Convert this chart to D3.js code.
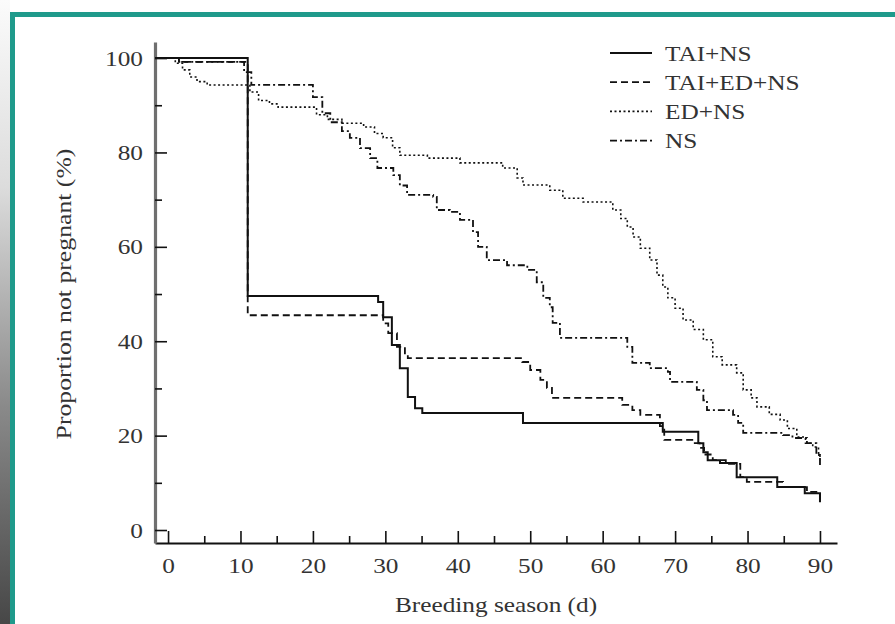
<!DOCTYPE html>
<html>
<head>
<meta charset="utf-8">
<script src="https://cdn.jsdelivr.net/npm/d3@7"></script>
<style>
  body { margin: 0; background: #fff; }
  svg { display: block; }
</style>
</head>
<body>
<svg width="895" height="624"></svg>
<script>
// series names shown in the legend
var seriesNames = ["TAI+NS", "TAI+ED+NS", "ED+NS", "NS"];

// [day, % not pregnant] step points
var taiNs = [[0,100],[11,49.6],[29,48.3],[29.7,45.1],[30.9,39.2],[32,34.3],[33.1,28.2],[34.1,25.8],[35.1,24.8],
  [49,22.7],[68.3,20.8],[73.2,18.4],[73.9,16.5],[74.5,14.8],[76.2,14.2],[78.5,11.2],[84.1,9.1],[87.9,7.8],[90,5.9]];

var taiEdNs = [[0,100],[1.5,99.2],[11,45.5],[29.7,43.8],[30.4,41.7],[31.6,38.8],[32.7,37.1],[33.1,36.4],[48.9,35.6],
  [50,33.9],[51.4,31.8],[52.3,30.1],[53,28],[62.7,26.5],[64.1,25.4],[65.2,24.4],[67.9,22],[68.5,19.1],[72.5,18.4],
  [73.4,17.4],[74,16],[75.2,14.8],[77,14],[79,11.2],[79.9,10.2],[84.9,9.1],[88.2,8.1],[90,6.4]];

var edNs = [[0,100],[1,98.9],[2,97.5],[3,96],[4,95],[5.4,94.3],[11.3,92.8],[12.5,91],[14,90.3],[15.2,89.6],[20.5,88],
  [22,87],[24,86.2],[27,85.4],[28.5,84],[29.7,83.1],[31,81],[32,79.4],[35.8,78.8],[40.3,77.8],[46.2,76.7],[48.2,74.6],
  [49,73.1],[52.7,72],[54.5,70.3],[57.3,69.5],[61.4,67.8],[62.5,66],[63.4,64.2],[64.2,62.1],[65.2,59.7],[66.5,57.2],
  [67.5,54],[68.3,51.5],[69,49.2],[70,47],[71.1,44.5],[72.5,42.5],[73.9,40.3],[75.2,36.7],[76.5,35],[78.5,33.3],
  [79.4,29.7],[80.5,28],[81.3,26.1],[83,24.5],[84.5,23.3],[85.5,21.5],[86.8,19.7],[88,18.4],[89,17.6],[89.8,16.3],[90,14.8]];

var ns = [[0,100],[1.5,99.2],[10.5,97],[11.5,94.3],[20,91.7],[21.3,88.3],[22.4,86.4],[24,84.5],[25.1,83.1],[26.5,80.9],
  [27.9,78.8],[28.9,76.7],[31.1,75.2],[32,73],[33,71],[36.6,70.6],[37.1,67.8],[38.9,67.4],[40.3,65.7],[42.1,63.1],
  [42.8,60],[44,57.2],[46.8,56.1],[49.6,55.1],[50.9,52.5],[51.8,49.2],[52.7,47.2],[53.1,43.9],[54.1,40.7],[63.4,38.8],
  [64.1,35.4],[66.5,34.3],[69,33.5],[69.3,31.4],[73,29.7],[73.9,27.5],[74.4,25.4],[78,24.4],[78.7,22.7],[79.4,20.6],
  [84.9,20.1],[86.2,19.5],[88.2,18.4],[89.5,15.9],[90,13.3]];

var xMajor = [0, 10, 20, 30, 40, 50, 60, 70, 80, 90];
var xMinor = [5, 15, 25, 35, 45, 55, 65, 75, 85];
var yMajor = [0, 20, 40, 60, 80, 100];
var yMinor = [10, 30, 50, 70, 90];

var allSeries = [taiNs, taiEdNs, edNs, ns];
var dashes = [null, "7,4", "2,2.5", "7,3,2,3"];
var widths = [2, 1.8, 1.6, 1.8];

var svg = d3.select("svg");
var FONT = "'Liberation Serif', 'Times New Roman', serif";

// frame: grey strip on the left and teal border
var grad = svg.append("defs").append("linearGradient")
    .attr("id", "strip").attr("x1", 0).attr("y1", 0).attr("x2", 0).attr("y2", 1);
grad.append("stop").attr("offset", "0").attr("stop-color", "#fbfbfb");
grad.append("stop").attr("offset", "0.3").attr("stop-color", "#dcdcdc");
grad.append("stop").attr("offset", "0.65").attr("stop-color", "#8a8a8a");
grad.append("stop").attr("offset", "1").attr("stop-color", "#474747");
svg.append("rect").attr("x", 0).attr("y", 0).attr("width", 10).attr("height", 624).attr("fill", "url(#strip)");
svg.append("rect").attr("x", 10).attr("y", 12).attr("width", 885).attr("height", 5).attr("fill", "#1f9a8b");
svg.append("rect").attr("x", 10).attr("y", 12).attr("width", 5).attr("height", 612).attr("fill", "#1f9a8b");

// scales: the domains run a little past the data so the axis lines meet at the corner
var x = d3.scaleLinear().domain([-1.8, 92.35]).range([155, 837]);
var y = d3.scaleLinear().domain([-2.75, 103.4]).range([543, 42]);

// widen Times-like glyphs a bit, like the scanned figure
function stretchText(sel, k) {
    sel.selectAll("text").each(function () {
        var t = d3.select(this);
        var tx = +t.attr("x") || 0, ty = +t.attr("y") || 0;
        t.attr("x", 0).attr("y", 0)
         .attr("transform", "translate(" + tx + "," + ty + ") scale(" + k + ",1)");
    });
}

var gx = svg.append("g").attr("transform", "translate(0," + y.range()[0] + ")");
gx.call(d3.axisBottom(x).tickValues(xMajor).tickSizeInner(-12).tickSizeOuter(0).tickPadding(14));
gx.append("g").call(d3.axisBottom(x).tickValues(xMinor).tickSizeInner(-7).tickSizeOuter(0).tickFormat(""))
    .select(".domain").remove();
gx.selectAll("line").attr("stroke", "#111").attr("stroke-width", 1.6);
gx.select(".domain").attr("stroke", "#111").attr("stroke-width", 2.2);
gx.selectAll("text").attr("font-family", FONT).attr("font-size", 22).attr("fill", "#333");
stretchText(gx, 1.15);

var gy = svg.append("g").attr("transform", "translate(" + x.range()[0] + ",0)");
gy.call(d3.axisLeft(y).tickValues(yMajor).tickSizeInner(-12).tickSizeOuter(0).tickPadding(12));
gy.append("g").call(d3.axisLeft(y).tickValues(yMinor).tickSizeInner(-7).tickSizeOuter(0).tickFormat(""))
    .select(".domain").remove();
gy.selectAll("line").attr("stroke", "#111").attr("stroke-width", 1.6);
gy.select(".domain").attr("stroke", "#6f6f6f").attr("stroke-width", 3.2);
gy.selectAll("text").attr("font-family", FONT).attr("font-size", 22).attr("fill", "#333");
stretchText(gy, 1.15);

// survival step lines
var line = d3.line()
    .x(function (d) { return x(d[0]); })
    .y(function (d) { return y(d[1]); })
    .curve(d3.curveStepAfter);

allSeries.forEach(function (s, i) {
    var pts = [[x.domain()[0], s[0][1]]].concat(s);
    svg.append("path")
        .attr("d", line(pts))
        .attr("fill", "none")
        .attr("stroke", "#111")
        .attr("stroke-width", widths[i])
        .attr("stroke-dasharray", dashes[i]);
});

// axis titles
svg.append("text")
    .attr("transform", "translate(496,612) scale(1.15,1)")
    .attr("text-anchor", "middle")
    .attr("font-family", FONT).attr("font-size", 22).attr("fill", "#333")
    .text("Breeding season (d)");
svg.append("text")
    .attr("transform", "translate(71,294) rotate(-90) scale(1.17,1)")
    .attr("text-anchor", "middle")
    .attr("font-family", FONT).attr("font-size", 22).attr("fill", "#333")
    .text("Proportion not pregnant (%)");

// legend
var legend = svg.append("g").attr("transform", "translate(610,53)");
seriesNames.forEach(function (name, i) {
    var row = legend.append("g").attr("transform", "translate(0," + (i * 29.2) + ")");
    row.append("line").attr("x1", 0).attr("x2", 42).attr("y1", 0).attr("y2", 0)
        .attr("stroke", "#111").attr("stroke-width", widths[i])
        .attr("stroke-dasharray", dashes[i]);
    row.append("text")
        .attr("transform", "translate(55,7.5) scale(1.15,1)")
        .attr("font-family", FONT).attr("font-size", 22).attr("fill", "#333")
        .text(name);
});
</script>
</body>
</html>
